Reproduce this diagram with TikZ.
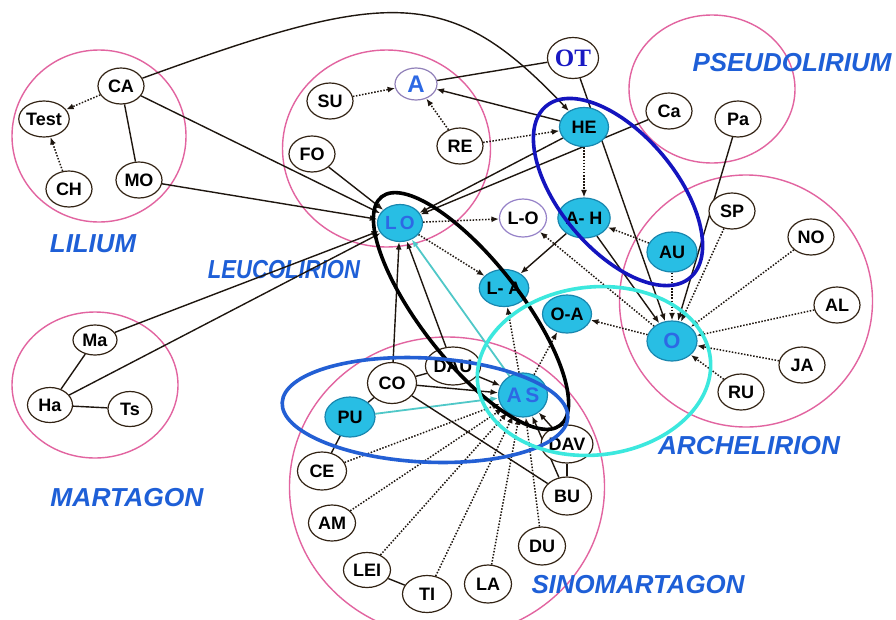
\documentclass[tikz,border=0pt]{standalone}
\usepackage{fontspec}
\usepackage{graphicx}
\setmainfont{Liberation Sans}
\newfontfamily\otfont{Liberation Serif}
\usetikzlibrary{arrows.meta,shapes.geometric}

\definecolor{pinkring}{RGB}{226,100,160}
\definecolor{cyanfill}{RGB}{40,190,228}
\definecolor{cyanedge}{RGB}{25,135,175}
\definecolor{nodeedge}{RGB}{50,35,20}
\definecolor{ink}{RGB}{30,22,15}
\definecolor{grpblue}{RGB}{30,95,215}
\definecolor{textblue}{RGB}{45,105,228}
\definecolor{otblue}{RGB}{25,25,195}
\definecolor{darkring}{RGB}{20,20,190}
\definecolor{midring}{RGB}{35,95,212}
\definecolor{aquaring}{RGB}{60,232,222}
\definecolor{tealline}{RGB}{80,200,200}
\definecolor{lilac}{RGB}{150,130,200}

\pgfdeclarelayer{rings}
\pgfdeclarelayer{links}
\pgfdeclarelayer{groups}
\pgfsetlayers{rings,links,main,groups}

\newcommand{\grplabel}[2]{\resizebox{#1}{\height}{#2}}

\tikzset{
  tx/.style={ellipse, draw=nodeedge, line width=1.2pt, fill=white,
    minimum width=46pt, minimum height=36pt, inner sep=0pt,
    font=\fontsize{18}{18}\selectfont\bfseries},
  cy/.style={tx, fill=cyanfill, draw=cyanedge, minimum width=49pt, minimum height=40pt},
  ln/.style={draw=ink, line width=1.4pt},
  arr/.style={ln, -{Latex[length=7.5pt,width=6pt]}},
  dt/.style={arr, line width=1.5pt, dash pattern=on 1.5pt off 1.6pt},
  tl/.style={draw=tealline, line width=1.8pt, -{Latex[length=7.5pt,width=6pt]}},
  ring/.style={draw=pinkring, line width=1.4pt},
  grp/.style={font=\fontsize{26}{26}\selectfont\bfseries\itshape, text=grpblue, inner sep=0pt},
  hull/.style={line width=3.6pt}
}

\begin{document}
\begin{tikzpicture}[x=1pt,y=-1pt]
\useasboundingbox (0,0) rectangle (896,619);

% section rings and their names
\begin{pgfonlayer}{rings}
  \fill[white] (0,0) rectangle (896,619);
  \draw[ring] (99,136) ellipse [x radius=87pt, y radius=86pt];
  \draw[ring] (386.5,148.5) ellipse [x radius=104pt, y radius=98.5pt];
  \draw[ring] (712,89) ellipse [x radius=83pt, y radius=74pt];
  \draw[ring] (746,301) ellipse [x radius=126.5pt, y radius=126pt];
  \draw[ring] (95,385) ellipse [x radius=83pt, y radius=73pt];
  \draw[ring] (447,487) ellipse [x radius=157.5pt, y radius=150pt];
  \node[grp] (lLil) at (93,244) {\grplabel{86pt}{LILIUM}};
  \node[grp] (lLeu) at (284,270) {\grplabel{152pt}{LEUCOLIRION}};
  \node[grp] (lPse) at (792,63) {\grplabel{199pt}{PSEUDOLIRIUM}};
  \node[grp] (lArc) at (749,446) {\grplabel{182pt}{ARCHELIRION}};
  \node[grp] (lMar) at (127,498) {\grplabel{153pt}{MARTAGON}};
  \node[grp] (lSin) at (638,585) {\grplabel{213pt}{SINOMARTAGON}};
\end{pgfonlayer}

% taxa
\node[tx] (CA) at (121,86) {CA};
\node[tx, minimum width=47pt] (Test) at (44,119) {Test};
\node[tx] (CH) at (69,189) {CH};
\node[tx] (MO) at (139,180) {MO};
\node[tx] (SU) at (330,101) {SU};
\node[tx, draw=lilac!80!gray, minimum width=42pt, minimum height=32pt,
  text=textblue, font=\fontsize{24}{24}\selectfont\bfseries] (A) at (416,84) {A};
\node[tx] (RE) at (460,146) {RE};
\node[tx] (FO) at (312,154) {FO};
\node[tx, minimum width=43pt, minimum height=41pt, text=otblue,
  font=\fontsize{25}{25}\selectfont\otfont\bfseries] (OT) at (573,58) {OT};
\node[cy, minimum height=39pt] (HE) at (584,127) {HE};
\node[cy, minimum width=45pt, minimum height=37pt, text=textblue,
  font=\fontsize{19}{19}\selectfont\bfseries] (LO) at (400,223) {L\,O};
\node[tx, draw=lilac, minimum width=47pt, minimum height=38pt] (LmO) at (523,218) {L-O};
\node[cy] (AmH) at (584,218) {A- H};
\node[tx] (Ca) at (669,111) {Ca};
\node[tx] (Pa) at (738,119) {Pa};
\node[tx] (SP) at (732,211) {SP};
\node[tx] (NO) at (811,237) {NO};
\node[cy, minimum width=50pt] (AU) at (672,252) {AU};
\node[tx] (AL) at (837,305) {AL};
\node[tx] (JA) at (802,365) {JA};
\node[tx] (RU) at (741,392) {RU};
\node[cy, minimum width=50pt, text=textblue,
  font=\fontsize{22}{22}\selectfont\bfseries] (O) at (672,341) {O};
\node[cy, minimum height=37pt] (LmA) at (504,288) {L- A};
\node[cy, minimum height=38pt] (OmA) at (567,314) {O-A};
\node[cy, minimum height=44pt, text=textblue,
  font=\fontsize{21}{21}\selectfont\bfseries] (AS) at (523,395) {A\,S};
\node[tx, minimum width=47pt, minimum height=38pt] (DAU) at (453,366) {DAU};
\node[tx, minimum width=49pt, minimum height=41pt] (CO) at (392,383) {CO};
\node[cy, minimum width=50pt] (PU) at (350,417) {PU};
\node[tx, minimum width=49pt, minimum height=38pt] (CE) at (322,471) {CE};
\node[tx, minimum width=49pt, minimum height=38pt] (DAV) at (567,444) {DAV};
\node[tx, minimum width=49pt, minimum height=38pt] (BU) at (567,496) {BU};
\node[tx, minimum width=47pt] (AM) at (332,523) {AM};
\node[tx, minimum width=47pt, minimum height=38pt] (DU) at (542,546) {DU};
\node[tx, minimum width=47pt, minimum height=35pt] (LEI) at (367,570) {LEI};
\node[tx, minimum width=49pt, minimum height=37pt] (TI) at (427,594) {TI};
\node[tx, minimum width=47pt, minimum height=38pt] (LA) at (488,584) {LA};
\node[tx, minimum width=44pt, minimum height=30pt] (Ma) at (95,340) {Ma};
\node[tx, minimum width=45pt, minimum height=35pt] (Ha) at (50,405) {Ha};
\node[tx, minimum width=44pt, minimum height=35pt] (Ts) at (130,409) {Ts};

% relationships
\begin{pgfonlayer}{links}
  % Lilium
  \draw[arr] (CA) .. controls (390,-12) and (450,-15) .. (HE);
  \draw[arr] (CA) -- (LO);
  \draw[dt] (CA) -- (Test);
  \draw[dt] (CH) -- (Test);
  \draw[ln] (CA) -- (MO);
  \draw[arr] (MO) -- (LO);
  % Leucolirion
  \draw[arr] (FO) -- (LO);
  \draw[dt] (SU) -- (A);
  \draw[dt] (RE) -- (A);
  \draw[dt] (RE) -- (HE);
  \draw[arr] (HE) -- (A);
  \draw[ln] (OT) -- (A);
  \draw[arr] (HE) -- (LO);
  \draw[arr] (Ca) -- (LO);
  \draw[dt] (LO) -- (LmO);
  \draw[dt] (LO) -- (LmA);
  \draw[dt] (HE) -- (AmH);
  \draw[arr] (AmH) -- (LmA);
  \draw[dt] (AU) -- (AmH);
  % Archelirion
  \draw[dt] (O) -- (LmO);
  \draw[arr] (AmH) -- (O);
  \draw[dt] (O) -- (OmA);
  \draw[arr] (OT) -- (O);
  \draw[arr] (Pa) -- (O);
  \draw[dt] (AU) -- (O);
  \draw[dt] (SP) -- (O);
  \draw[dt] (NO) -- (O);
  \draw[dt] (AL) -- (O);
  \draw[dt] (JA) -- (O);
  \draw[dt] (RU) -- (O);
  % Martagon
  \draw[arr] (Ma) -- (LO);
  \draw[arr] (Ha) -- (LO);
  \draw[ln] (Ma) -- (Ha);
  \draw[ln] (Ha) -- (Ts);
  % Sinomartagon
  \draw[dt] (AS) -- (OmA);
  \draw[dt] (AS) -- (LmA);
  \draw[arr] (CO) -- (LO);
  \draw[arr] (DAU) -- (LO);
  \draw[tl] (AS) -- (LO);
  \draw[tl] (PU) -- (AS);
  \draw[arr] (CO) -- (AS);
  \draw[arr] (DAU) -- (AS);
  \draw[ln] (CO) -- (PU);
  \draw[ln] (CO) -- (DAU);
  \draw[ln] (CO) -- (BU);
  \draw[ln] (PU) -- (CE);
  \draw[arr] (BU) -- (AS);
  \draw[ln] (BU) -- (DAV);
  \draw[arr] (DAV) -- (AS);
  \draw[dt] (CE) -- (AS);
  \draw[dt] (AM) -- (AS);
  \draw[dt] (LEI) -- (AS);
  \draw[dt] (TI) -- (AS);
  \draw[dt] (LA) -- (AS);
  \draw[dt] (DU) -- (AS);
  \draw[ln] (LEI) -- (TI);
\end{pgfonlayer}

% groupings
\begin{pgfonlayer}{groups}
  \draw[hull, draw=darkring, rotate around={-50:(618,192)}]
    (618,192) ellipse [x radius=112pt, y radius=58pt];
  \draw[hull, draw=black, rotate around={-52:(471,311)}]
    (471,311) ellipse [x radius=145pt, y radius=50pt];
  \draw[hull, draw=midring, rotate around={-3:(425,410)}]
    (425,410) ellipse [x radius=143pt, y radius=52pt];
  \draw[hull, draw=aquaring, rotate around={6:(594,371)}]
    (594,371) ellipse [x radius=117pt, y radius=84pt];
\end{pgfonlayer}
\end{tikzpicture}
\end{document}
